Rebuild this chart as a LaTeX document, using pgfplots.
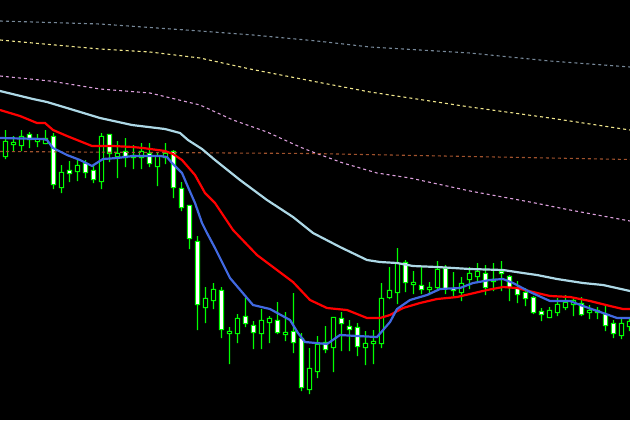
\documentclass[border=0pt]{standalone}
\usepackage{pgfplots}
\usepackage{pgfplotstable}
\pgfplotsset{compat=1.18}

\definecolor{candle}{RGB}{0,255,0}
\definecolor{maslow}{RGB}{173,216,230}
\definecolor{mamid}{RGB}{255,0,0}
\definecolor{mafast}{RGB}{65,105,225}
\definecolor{lvlgray}{RGB}{119,136,153}
\definecolor{lvlyellow}{RGB}{240,230,140}
\definecolor{lvlpink}{RGB}{221,160,221}
\definecolor{lvlbrown}{RGB}{160,82,45}
\pagecolor{black}

% candles in screen units: x, high, low, body top, white body height, hollow body height
\pgfplotstableread{
x   hi  lo  top wb hb
5   130 158 141 0  15
13  136 150 142 0  2
21  130 150 136 0  9
29  132 147 134 5  0
37  134 146 139 0  2
45  130 143 138 0  5
53  133 188 136 48 0
61  165 192 172 0  15
69  161 181 170 3  0
77  160 180 165 0  6
85  160 177 163 9  0
93  165 182 170 9  0
101 133 188 136 0  45
109 134 161 134 19 0
117 141 177 153 0  3
125 138 166 151 6  0
133 145 168 155 0  2
141 143 168 151 0  6
149 143 166 153 10 0
157 153 185 156 0  10
165 143 163 153 0  4
173 150 197 151 36 0
181 182 210 188 19 0
189 205 248 205 33 0
197 236 329 241 63 0
205 287 322 298 0  9
213 283 308 289 0  11
221 287 337 290 39 0
229 327 363 331 0  2
237 314 342 318 0  15
245 298 326 316 7  0
253 321 348 325 7  0
261 309 348 320 0  13
269 316 342 318 0  4
277 302 333 320 12 0
285 312 340 332 0  2
293 293 352 331 11 0
301 333 390 338 49 0
309 348 393 368 0  21
317 336 377 344 0  27
325 326 352 342 7  0
333 317 371 317 0  30
341 312 350 318 5  0
349 320 350 326 3  0
357 323 355 327 19 0
365 331 364 343 0  4
373 330 363 341 0  2
381 283 347 298 0  45
389 267 298 290 0  7
397 248 303 263 0  29
405 260 291 262 20 0
413 271 293 282 0  2
421 267 293 285 4  0
429 282 294 287 0  2
437 261 290 269 0  18
445 265 293 268 20 0
453 272 295 288 2  0
461 277 300 283 0  9
469 267 288 273 0  6
477 263 282 271 0  5
485 265 294 273 14 0
493 263 290 279 0  2
501 261 290 271 2  0
509 275 300 276 11 0
517 281 302 287 7  0
525 288 305 292 6  0
533 296 313 297 15 0
541 308 320 311 3  0
549 307 317 310 0  7
557 298 315 304 0  8
565 295 309 302 0  5
573 297 315 300 0  4
581 297 315 303 11 0
589 305 318 310 0  2
597 307 318 310 0  2
605 305 330 314 11 0
613 320 337 323 10 0
621 317 338 323 0  12
629 317 330 321 0  5
}\candles

\pgfplotsset{
  chart/.style={
    width=630bp, height=420bp, scale only axis,
    xmin=0, xmax=630, ymin=0, ymax=420, y dir=reverse,
    axis lines=none, ticks=none, clip=true
  },
  lvl/.style={line width=1.1bp, dash pattern=on 3bp off 3bp},
}

\begin{document}
\begin{tikzpicture}
% wicks
\begin{axis}[chart, axis background/.style={fill=black}, ybar stacked, bar width=1.2bp]
  \addplot[draw=none, fill=none] table[x expr=\thisrow{x}+0.5, y=hi] {\candles};
  \addplot[draw=none, fill=candle]
    table[x expr=\thisrow{x}+0.5, y expr=\thisrow{lo}-\thisrow{hi}+1] {\candles};
\end{axis}
% body frames (green)
\begin{axis}[chart, ybar stacked, bar width=5.4bp]
  \addplot[draw=none, fill=none] table[x expr=\thisrow{x}+0.5, y expr=\thisrow{top}-0.2] {\candles};
  \addplot[draw=none, fill=candle]
    table[x expr=\thisrow{x}+0.5, y expr=\thisrow{wb}+\thisrow{hb}+1.4] {\candles};
\end{axis}
% body insides: white for falling, black for rising candles
\begin{axis}[chart, ybar stacked, bar width=2.8bp]
  \addplot[draw=none, fill=none] table[x expr=\thisrow{x}+0.5, y expr=\thisrow{top}+1.2] {\candles};
  \addplot[draw=none, fill=white] table[x expr=\thisrow{x}+0.5, y expr={max(\thisrow{wb}-1.4,0)}] {\candles};
  \addplot[draw=none, fill=black] table[x expr=\thisrow{x}+0.5, y expr={max(\thisrow{hb}-1.4,0)}] {\candles};
\end{axis}
% indicator lines
\begin{axis}[chart]
  \addplot[lvlgray, lvl] coordinates {
    (0,21) (100,24) (200,31) (253,35) (317,41) (370,47) (470,53) (550,61) (630,67)};
  \addplot[lvlyellow, lvl] coordinates {
    (0,40) (33,43) (100,49) (150,52) (200,58) (250,69) (317,82) (370,92) (470,107) (550,118) (630,130)};
  \addplot[lvlpink, lvl] coordinates {
    (0,76) (50,81) (100,89) (150,93) (200,105) (233,120) (267,132) (300,147) (310,151)
    (343,163) (377,173) (410,178) (470,191) (530,202) (570,210) (630,221)};
  \addplot[lvlbrown, lvl] coordinates {(0,151.5) (310,153.5) (470,156.5) (630,159.5)};

  \addplot[maslow, line width=2.2bp] coordinates {
    (0,91) (33,99) (47,102) (67,108) (100,118) (132,125) (165,129) (180,133) (188,140)
    (202,149) (215,160) (240,180) (267,200) (293,217) (313,233) (340,247) (367,260)
    (380,262) (397,263) (413,266) (437,267) (470,269) (503,270) (523,273) (537,275)
    (557,279) (583,283) (603,285) (630,291)};
  \addplot[mamid, line width=2.2bp] coordinates {
    (0,110) (20,116) (37,123) (45,123) (53,130) (67,136) (87,144) (92,146) (113,146)
    (133,147) (143,148) (165,151) (173,154) (182,160) (195,175) (205,193) (215,203)
    (233,230) (257,255) (273,267) (293,282) (310,300) (327,308) (347,310) (367,318)
    (380,318) (390,315) (403,308) (420,303) (437,299) (457,297) (470,294) (487,290)
    (503,287) (517,288) (537,293) (550,296) (570,297) (590,301) (610,306) (623,309) (630,309)};
  \addplot[mafast, line width=2.2bp] coordinates {
    (0,138) (43,139) (47,140) (53,148) (67,155) (80,160) (92,166) (103,159) (117,158)
    (133,156) (160,156) (167,157) (172,163) (182,173) (188,187) (195,203) (202,223)
    (207,233) (215,248) (230,278) (253,305) (270,309) (290,320) (298,333) (305,342)
    (327,344) (340,335) (357,336) (377,337) (390,322) (397,309) (410,300) (427,295)
    (440,289) (460,288) (473,283) (490,280) (503,279) (513,283) (530,292) (550,301)
    (570,301) (583,306) (603,313) (617,318) (630,318)};
\end{axis}
\end{tikzpicture}
\end{document}
